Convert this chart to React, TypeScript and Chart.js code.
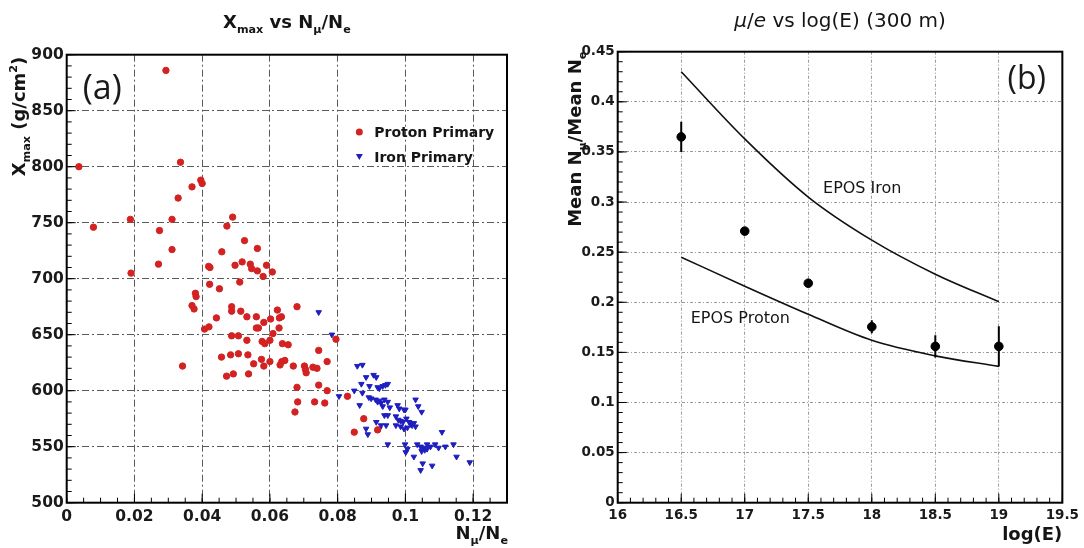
import React, { useEffect, useRef } from "react";
import { Chart, registerables } from "chart.js";
Chart.register(...registerables);

// ---------- Panel (a): Xmax vs Nmu/Ne ----------
const protonNmuNe = [
  0.0293, 0.0036, 0.0336, 0.0396, 0.04, 0.037, 0.0329, 0.049, 0.0473, 0.0188,
  0.0079, 0.0311, 0.0274, 0.0525, 0.0311, 0.0458, 0.0563, 0.0271, 0.0419, 0.0423,
  0.0497, 0.0518, 0.0542, 0.0546, 0.0563, 0.019, 0.059, 0.058, 0.0607, 0.0422,
  0.0451, 0.0511, 0.038, 0.0382, 0.037, 0.0376, 0.0487, 0.0487, 0.0514, 0.0442,
  0.0532, 0.056, 0.0622, 0.0628, 0.0634, 0.068, 0.0602, 0.0582, 0.056, 0.0566,
  0.0407, 0.042, 0.0627, 0.0609, 0.0487, 0.0507, 0.0532, 0.0577, 0.0585, 0.06,
  0.0637, 0.0654, 0.0795, 0.0744, 0.0457, 0.0484, 0.0507, 0.0535, 0.0575, 0.0552,
  0.0582, 0.06, 0.0635, 0.063, 0.0644, 0.0669, 0.0702, 0.0705, 0.0707, 0.0727,
  0.0739, 0.0769, 0.0472, 0.0492, 0.0537, 0.0342, 0.068, 0.0744, 0.0769, 0.0682,
  0.0732, 0.0762, 0.0674, 0.0829, 0.0877, 0.0849, 0.0918,
];
const protonXmax = [
  886, 800, 804, 788, 785, 782, 772, 755, 747, 753,
  746, 753, 743, 734, 726, 724, 727, 713, 711, 710,
  712, 715, 713, 709, 707, 705, 712, 702, 706, 695,
  691, 697, 687, 684, 676, 673, 675, 671, 671, 665,
  666, 666, 672, 665, 666, 675, 664, 661, 656, 656,
  655, 657, 656, 651, 649, 649, 645, 644, 642, 645,
  642, 641, 646, 636, 630, 632, 633, 632, 628, 624,
  622, 626, 626, 623, 627, 622, 622, 619, 616, 621,
  620, 626, 613, 615, 615, 622, 603, 605, 600, 590,
  590, 589, 581, 595, 575, 563, 565,
];
const ironNmuNe = [
  0.0744, 0.0783, 0.0858, 0.0873, 0.0884, 0.0906, 0.0914, 0.087, 0.0894, 0.0918,
  0.0923, 0.0933, 0.0941, 0.0948, 0.0849, 0.0873, 0.0804, 0.0892, 0.0899, 0.0912,
  0.0918, 0.0923, 0.0938, 0.0865, 0.0928, 0.0933, 0.0948, 0.0954, 0.0977, 0.0982,
  0.0996, 0.1, 0.103, 0.1038, 0.1048, 0.0938, 0.0948, 0.0972, 0.0979, 0.0986,
  0.0993, 0.1003, 0.1011, 0.1016, 0.102, 0.1025, 0.0986, 0.0996, 0.1006, 0.0914,
  0.0928, 0.0943, 0.0972, 0.103, 0.0923, 0.0884, 0.0889, 0.0948, 0.0999, 0.1006,
  0.1001, 0.1035, 0.1045, 0.1054, 0.1064, 0.1074, 0.1088, 0.1098, 0.1048, 0.1057,
  0.1064, 0.1108, 0.1118, 0.1142, 0.1151, 0.1025, 0.1051, 0.1045, 0.1079, 0.119,
];
const ironXmax = [
  670, 650, 622, 623, 612, 614, 612, 606, 604, 603,
  602, 604, 605, 606, 600, 598, 595, 594, 593, 592,
  590, 591, 592, 587, 589, 586, 590, 585, 587, 584,
  583, 583, 592, 586, 581, 578, 578, 577, 574, 573,
  572, 575, 572, 570, 569, 571, 568, 566, 567, 572,
  569, 569, 569, 568, 566, 566, 561, 552, 552, 548,
  545, 552, 550, 549, 552, 550, 552, 549, 546, 547,
  548, 563, 550, 552, 541, 541, 535, 529, 533, 536,
];
const leftXTicks = [0, 0.02, 0.04, 0.06, 0.08, 0.1, 0.12];
const leftYTicks = [500, 550, 600, 650, 700, 750, 800, 850, 900];

// ---------- Panel (b): mu/e vs log(E) ----------
const logE = [16.5, 17, 17.5, 18, 18.5, 19];
const muOverE = [0.365, 0.271, 0.219, 0.1755, 0.156, 0.156];
const muOverEErrUp = [0.015, 0.004, 0.004, 0.0065, 0.011, 0.02];
const muOverEErrDown = [0.015, 0.004, 0.004, 0.0065, 0.011, 0.02];
const eposIron = [0.43, 0.363, 0.305, 0.262, 0.228, 0.2005];
const eposProton = [0.245, 0.216, 0.188, 0.162, 0.1465, 0.136];
const rightXTicks = [16, 16.5, 17, 17.5, 18, 18.5, 19, 19.5];
const rightYTicks = [0, 0.05, 0.1, 0.15, 0.2, 0.25, 0.3, 0.35, 0.4, 0.45];

const ROOT_FONT = "'DejaVu Sans', sans-serif";
const LABEL_FONT = "'Open Sans', sans-serif";

type Seg = { t: string; sub?: boolean; sup?: boolean; it?: boolean };

function drawRich(
  ctx: CanvasRenderingContext2D,
  segs: Seg[],
  x: number,
  y: number,
  size: number,
  weight: string,
  align: "left" | "center" | "right",
  rotate = false,
  color = "#151515",
  family = ROOT_FONT
) {
  ctx.save();
  ctx.translate(x, y);
  if (rotate) ctx.rotate(-Math.PI / 2);
  const fontFor = (s: Seg) =>
    `${s.it ? "italic " : ""}${weight} ${s.sub || s.sup ? size * 0.62 : size}px ${family}`;
  let total = 0;
  const widths = segs.map((s) => {
    ctx.font = fontFor(s);
    const w = ctx.measureText(s.t).width;
    total += w;
    return w;
  });
  let cx = align === "left" ? 0 : align === "center" ? -total / 2 : -total;
  ctx.fillStyle = color;
  ctx.textAlign = "left";
  ctx.textBaseline = "alphabetic";
  segs.forEach((s, i) => {
    ctx.font = fontFor(s);
    const dy = s.sub ? size * 0.25 : s.sup ? -size * 0.42 : 0;
    ctx.fillText(s.t, cx, dy);
    cx += widths[i];
  });
  ctx.restore();
}

function fmt(v: number) {
  return String(Math.round(v * 1000) / 1000);
}

function makeDeco(o: {
  xMinor: number;
  yMinor: number;
  xMajor: number[];
  yMajor: number[];
  majorLen: number;
  minorLen: number;
  draw: (chart: any) => void;
}) {
  return {
    id: "rootDeco",
    afterDraw(chart: any) {
      const { ctx, chartArea: a } = chart;
      const xs = chart.scales.x;
      const ys = chart.scales.y;
      ctx.save();
      ctx.strokeStyle = "#000";
      ctx.lineWidth = 1;
      ctx.beginPath();
      const nx = Math.round((xs.max - xs.min) / o.xMinor);
      for (let i = 0; i <= nx; i++) {
        const px = xs.getPixelForValue(xs.min + i * o.xMinor);
        ctx.moveTo(px, a.bottom);
        ctx.lineTo(px, a.bottom - o.minorLen);
      }
      const ny = Math.round((ys.max - ys.min) / o.yMinor);
      for (let i = 0; i <= ny; i++) {
        const py = ys.getPixelForValue(ys.min + i * o.yMinor);
        ctx.moveTo(a.left, py);
        ctx.lineTo(a.left + o.minorLen, py);
      }
      o.xMajor.forEach((v) => {
        const px = xs.getPixelForValue(v);
        ctx.moveTo(px, a.bottom);
        ctx.lineTo(px, a.bottom - o.majorLen);
      });
      o.yMajor.forEach((v) => {
        const py = ys.getPixelForValue(v);
        ctx.moveTo(a.left, py);
        ctx.lineTo(a.left + o.majorLen, py);
      });
      ctx.stroke();
      ctx.lineWidth = 2;
      ctx.strokeRect(a.left, a.top, a.right - a.left, a.bottom - a.top);
      ctx.restore();
      o.draw(chart);
    },
  };
}

function axisCommon(ticks: number[], fit: (s: any) => void, fontSize: number, gridColor: string, dash: number[], padding: number) {
  return {
    type: "linear" as const,
    min: ticks[0],
    afterFit: fit,
    afterBuildTicks: (s: any) => {
      s.ticks = ticks.map((v) => ({ value: v }));
    },
    grid: { color: gridColor, lineWidth: 1, drawTicks: false },
    border: { display: false, dash },
    ticks: {
      padding,
      color: "#1a1a1a",
      autoSkip: false,
      maxRotation: 0,
      font: { family: ROOT_FONT, size: fontSize, weight: "bold" as const },
      callback: (v: any) => fmt(Number(v)),
    },
  };
}

function LeftChart() {
  const ref = useRef<HTMLCanvasElement>(null);
  useEffect(() => {
    const deco = makeDeco({
      xMinor: 0.005,
      yMinor: 10,
      xMajor: leftXTicks,
      yMajor: leftYTicks,
      majorLen: 9,
      minorLen: 5,
      draw: (chart) => {
        const ctx: CanvasRenderingContext2D = chart.ctx;
        const a = chart.chartArea;
        const xs = chart.scales.x;
        const ys = chart.scales.y;
        // title
        drawRich(
          ctx,
          [{ t: "X" }, { t: "max", sub: true }, { t: " vs N" }, { t: "μ", sub: true }, { t: "/N" }, { t: "e", sub: true }],
          (a.left + a.right) / 2,
          28,
          18,
          "bold",
          "center"
        );
        // y title
        drawRich(
          ctx,
          [{ t: "X" }, { t: "max", sub: true }, { t: " (g/cm" }, { t: "2", sup: true }, { t: ")" }],
          25,
          a.top + 2,
          18,
          "bold",
          "right",
          true
        );
        // x title
        drawRich(
          ctx,
          [{ t: "N" }, { t: "μ", sub: true }, { t: "/N" }, { t: "e", sub: true }],
          a.right + 1,
          539,
          18,
          "bold",
          "right"
        );
        // (a)
        ctx.save();
        ctx.fillStyle = "#1a1a1a";
        ctx.font = `34px ${LABEL_FONT}`;
        ctx.textAlign = "center";
        ctx.textBaseline = "middle";
        ctx.fillText("(a)", xs.getPixelForValue(0.0105), ys.getPixelForValue(869));
        ctx.restore();
        // legend
        const lx = xs.getPixelForValue(0.0864);
        const tx = xs.getPixelForValue(0.0908);
        const y1 = ys.getPixelForValue(831);
        const y2 = ys.getPixelForValue(809);
        ctx.save();
        ctx.fillStyle = chart.data.datasets[0].backgroundColor;
        ctx.beginPath();
        ctx.arc(lx, y1, 3.5, 0, Math.PI * 2);
        ctx.fill();
        ctx.fillStyle = chart.data.datasets[1].backgroundColor;
        ctx.beginPath();
        ctx.moveTo(lx - 3.5, y2 - 2.5);
        ctx.lineTo(lx + 3.5, y2 - 2.5);
        ctx.lineTo(lx, y2 + 3.5);
        ctx.closePath();
        ctx.fill();
        ctx.restore();
        drawRich(ctx, [{ t: chart.data.datasets[0].label }], tx, y1 + 5, 14, "bold", "left");
        drawRich(ctx, [{ t: chart.data.datasets[1].label }], tx, y2 + 5, 14, "bold", "left");
      },
    });
    const chart = new Chart(ref.current!, {
      type: "scatter",
      data: {
        datasets: [
          {
            label: "Proton Primary",
            data: protonNmuNe.map((x, i) => ({ x, y: protonXmax[i] })),
            backgroundColor: "#d32222",
            borderColor: "#d32222",
            pointRadius: 3.2,
            pointStyle: "circle",
          },
          {
            label: "Iron Primary",
            data: ironNmuNe.map((x, i) => ({ x, y: ironXmax[i] })),
            backgroundColor: "#1f1fc0",
            borderColor: "#1f1fc0",
            pointRadius: 3.2,
            pointStyle: "triangle",
            pointRotation: 180,
          },
        ],
      },
      options: {
        animation: false,
        responsive: false,
        events: [],
        layout: { padding: { top: 54.7, right: 35, left: 0, bottom: 0 } },
        plugins: { legend: { display: false }, tooltip: { enabled: false } },
        scales: {
          x: {
            ...axisCommon(leftXTicks, (s: any) => { s.height = 45.3; }, 15.5, "#5a5a5a", [7, 3, 2, 3], 5),
            max: 0.13,
          },
          y: {
            ...axisCommon(leftYTicks, (s: any) => { s.width = 66.7; }, 15.5, "#5a5a5a", [7, 3, 2, 3], 3),
            max: 900,
          },
        },
      },
      plugins: [deco],
    });
    return () => chart.destroy();
  }, []);
  return <canvas ref={ref} width={542} height={548} style={{ width: 542, height: 548, display: "block" }} />;
}

function RightChart() {
  const ref = useRef<HTMLCanvasElement>(null);
  useEffect(() => {
    const deco = makeDeco({
      xMinor: 0.1,
      yMinor: 0.01,
      xMajor: rightXTicks,
      yMajor: rightYTicks,
      majorLen: 9,
      minorLen: 5,
      draw: (chart) => {
        const ctx: CanvasRenderingContext2D = chart.ctx;
        const a = chart.chartArea;
        const xs = chart.scales.x;
        const ys = chart.scales.y;
        // error bars
        ctx.save();
        ctx.strokeStyle = "#000";
        ctx.lineWidth = 2;
        ctx.beginPath();
        logE.forEach((e, i) => {
          const px = xs.getPixelForValue(e);
          ctx.moveTo(px, ys.getPixelForValue(muOverE[i] - muOverEErrDown[i]));
          ctx.lineTo(px, ys.getPixelForValue(muOverE[i] + muOverEErrUp[i]));
        });
        ctx.stroke();
        ctx.restore();
        // title
        drawRich(
          ctx,
          [{ t: "μ", it: true }, { t: "/" }, { t: "e", it: true }, { t: " vs log(E) (300 m)" }],
          (a.left + a.right) / 2,
          27,
          20,
          "normal",
          "center"
        );
        // y title
        drawRich(
          ctx,
          [{ t: "Mean N" }, { t: "μ", sub: true }, { t: "/Mean N" }, { t: "e", sub: true }],
          39,
          a.top,
          18,
          "bold",
          "right",
          true
        );
        // x title
        drawRich(ctx, [{ t: "log(E)" }], a.right, 540, 18, "bold", "right");
        // curve labels
        drawRich(ctx, [{ t: "EPOS Iron" }], xs.getPixelForValue(17.925), ys.getPixelForValue(0.315) + 6, 16, "normal", "center");
        drawRich(ctx, [{ t: "EPOS Proton" }], xs.getPixelForValue(16.965), ys.getPixelForValue(0.185) + 6, 16, "normal", "center");
        // (b)
        ctx.save();
        ctx.fillStyle = "#1a1a1a";
        ctx.font = `32px ${LABEL_FONT}`;
        ctx.textAlign = "center";
        ctx.textBaseline = "middle";
        ctx.fillText("(b)", xs.getPixelForValue(19.22), ys.getPixelForValue(0.422));
        ctx.restore();
      },
    });
    const chart = new Chart(ref.current!, {
      type: "scatter",
      data: {
        datasets: [
          {
            label: "EPOS Iron",
            data: logE.map((x, i) => ({ x, y: eposIron[i] })),
            showLine: true,
            borderColor: "#111",
            borderWidth: 1.6,
            pointRadius: 0,
            cubicInterpolationMode: "monotone",
          },
          {
            label: "EPOS Proton",
            data: logE.map((x, i) => ({ x, y: eposProton[i] })),
            showLine: true,
            borderColor: "#111",
            borderWidth: 1.6,
            pointRadius: 0,
            cubicInterpolationMode: "monotone",
          },
          {
            label: "Data",
            data: logE.map((x, i) => ({ x, y: muOverE[i] })),
            backgroundColor: "#000",
            borderColor: "#000",
            pointRadius: 4.3,
          },
        ],
      },
      options: {
        animation: false,
        responsive: false,
        events: [],
        layout: { padding: { top: 51.7, right: 21, left: 0, bottom: 0 } },
        plugins: { legend: { display: false }, tooltip: { enabled: false } },
        scales: {
          x: {
            ...axisCommon(rightXTicks, (s: any) => { s.height = 45.3; }, 13.5, "#9a9a9a", [3, 2, 1, 2], 5),
            max: 19.5,
          },
          y: {
            ...axisCommon(rightYTicks, (s: any) => { s.width = 75.7; }, 13.5, "#9a9a9a", [3, 2, 1, 2], 3),
            max: 0.45,
          },
        },
      },
      plugins: [deco],
    });
    return () => chart.destroy();
  }, []);
  return <canvas ref={ref} width={542} height={548} style={{ width: 542, height: 548, display: "block" }} />;
}

export default function App() {
  return (
    <div style={{ position: "absolute", left: 0, top: 0, width: 1084, height: 548, background: "#fff", display: "flex" }}>
      <LeftChart />
      <RightChart />
    </div>
  );
}
